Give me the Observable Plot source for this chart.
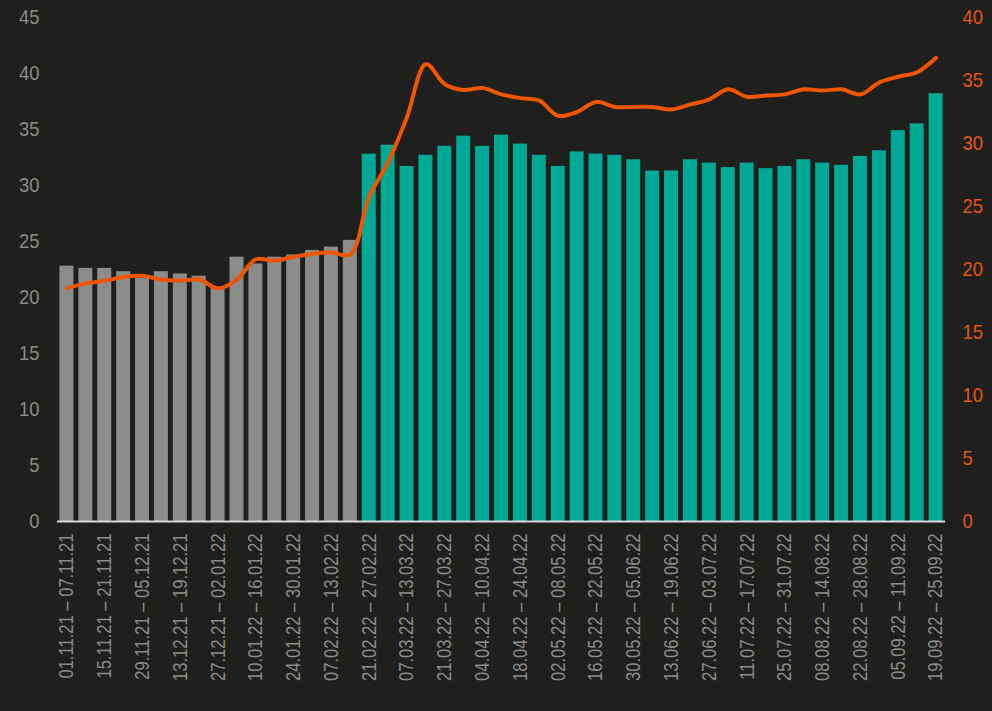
<!DOCTYPE html>
<html><head><meta charset="utf-8">
<script src="https://cdn.jsdelivr.net/npm/d3@7"></script>
<script src="https://cdn.jsdelivr.net/npm/@observablehq/plot@0.6"></script>
<style>
html,body{margin:0;padding:0;background:#1f1f1e;}
#chart svg{display:block;}
</style></head><body><div id="chart"></div>
<script>
const weeks = [
  "01.11.21 – 07.11.21","08.11.21 – 14.11.21","15.11.21 – 21.11.21","22.11.21 – 28.11.21",
  "29.11.21 – 05.12.21","06.12.21 – 12.12.21","13.12.21 – 19.12.21","20.12.21 – 26.12.21",
  "27.12.21 – 02.01.22","03.01.22 – 09.01.22","10.01.22 – 16.01.22","17.01.22 – 23.01.22",
  "24.01.22 – 30.01.22","31.01.22 – 06.02.22","07.02.22 – 13.02.22","14.02.22 – 20.02.22",
  "21.02.22 – 27.02.22","28.02.22 – 06.03.22","07.03.22 – 13.03.22","14.03.22 – 20.03.22",
  "21.03.22 – 27.03.22","28.03.22 – 03.04.22","04.04.22 – 10.04.22","11.04.22 – 17.04.22",
  "18.04.22 – 24.04.22","25.04.22 – 01.05.22","02.05.22 – 08.05.22","09.05.22 – 15.05.22",
  "16.05.22 – 22.05.22","23.05.22 – 29.05.22","30.05.22 – 05.06.22","06.06.22 – 12.06.22",
  "13.06.22 – 19.06.22","20.06.22 – 26.06.22","27.06.22 – 03.07.22","04.07.22 – 10.07.22",
  "11.07.22 – 17.07.22","18.07.22 – 24.07.22","25.07.22 – 31.07.22","01.08.22 – 07.08.22",
  "08.08.22 – 14.08.22","15.08.22 – 21.08.22","22.08.22 – 28.08.22","29.08.22 – 04.09.22",
  "05.09.22 – 11.09.22","12.09.22 – 18.09.22","19.09.22 – 25.09.22"
];
// left axis (bars)
const barValues = [
  22.8,22.6,22.6,22.3,21.7,22.3,22.1,21.9,20.9,23.6,23.0,23.6,23.8,24.2,24.5,25.1,
  32.8,33.6,31.7,32.7,33.5,34.4,33.5,34.5,33.7,32.7,31.7,33.0,32.8,32.7,32.3,31.3,
  31.3,32.3,32.0,31.6,32.0,31.5,31.7,32.3,32.0,31.8,32.6,33.1,34.9,35.5,38.2
];
// right axis (line)
const lineValues = [
  18.5,18.9,19.1,19.4,19.5,19.2,19.1,19.2,18.5,19.2,20.8,20.7,21.0,21.25,21.35,21.2,
  25.8,28.5,32.1,36.3,34.7,34.25,34.4,33.9,33.6,33.4,32.2,32.5,33.3,32.9,32.9,32.9,
  32.7,33.1,33.5,34.3,33.7,33.8,33.9,34.3,34.2,34.3,33.9,34.85,35.3,35.65,36.8
];
const phases = ["Before","After"];
const firstAfterWeek = "21.02.22 – 27.02.22";
const leftTicks = [0,5,10,15,20,25,30,35,40,45];
const rightTicks = [0,5,10,15,20,25,30,35,40];
const labelledWeeks = weeks.filter((d, i) => i % 2 === 0);

const leftMax = 45, rightMax = 40;
const k = leftMax / rightMax;
const startIdx = weeks.indexOf(firstAfterWeek);
const data = weeks.map((w, i) => ({
  week: w, bar: barValues[i], line: lineValues[i] * k,
  phase: i < startIdx ? phases[0] : phases[1]
}));

const chart = Plot.plot({
  width: 992, height: 711,
  marginTop: 17, marginBottom: 190, marginLeft: 57, marginRight: 47,
  style: {background: "transparent", fontFamily: "'Liberation Sans','Arial',sans-serif", fontSize: "20px", color: "#8b8b8b"},
  x: {domain: weeks, paddingInner: 0.26, paddingOuter: 0.13},
  y: {domain: [0, leftMax]},
  color: {domain: phases, range: ["#8c8c8a", "#00a995"]},
  marks: [
    Plot.barY(data, {x: "week", y: "bar", fill: "phase"}),
    Plot.ruleY([0], {stroke: "#d9d9d9", strokeWidth: 2}),
    Plot.line(data, {x: "week", y: "line", stroke: "#f05500", strokeWidth: 4, curve: "catmull-rom", strokeLinecap: "round", strokeLinejoin: "round"}),
    Plot.axisY({ticks: leftTicks, tickSize: 0, tickPadding: 18, label: null, color: "#8b8b8b"}),
    Plot.axisY({anchor: "right", ticks: rightTicks.map(t => t * k), tickFormat: d => String(Math.round(d / k)), tickSize: 0, tickPadding: 17, label: null, color: "#e4570f"}),
    Plot.axisX({ticks: labelledWeeks, tickRotate: -90, tickSize: 0, tickPadding: 12, label: null, color: "#8b8b8b"})
  ]
});
// condensed look for the rotated week labels
d3.select(chart).selectAll('g[aria-label="x-axis tick label"] text').each(function() {
  const t = this.getAttribute("transform") || "";
  this.setAttribute("transform", t + " scale(0.83,1)");
});
d3.select(chart).selectAll('g[aria-label="y-axis tick label"] text').each(function() {
  const t = this.getAttribute("transform") || "";
  this.setAttribute("transform", t + " scale(0.92,1)");
});
document.getElementById("chart").appendChild(chart);
</script>
</body></html>
